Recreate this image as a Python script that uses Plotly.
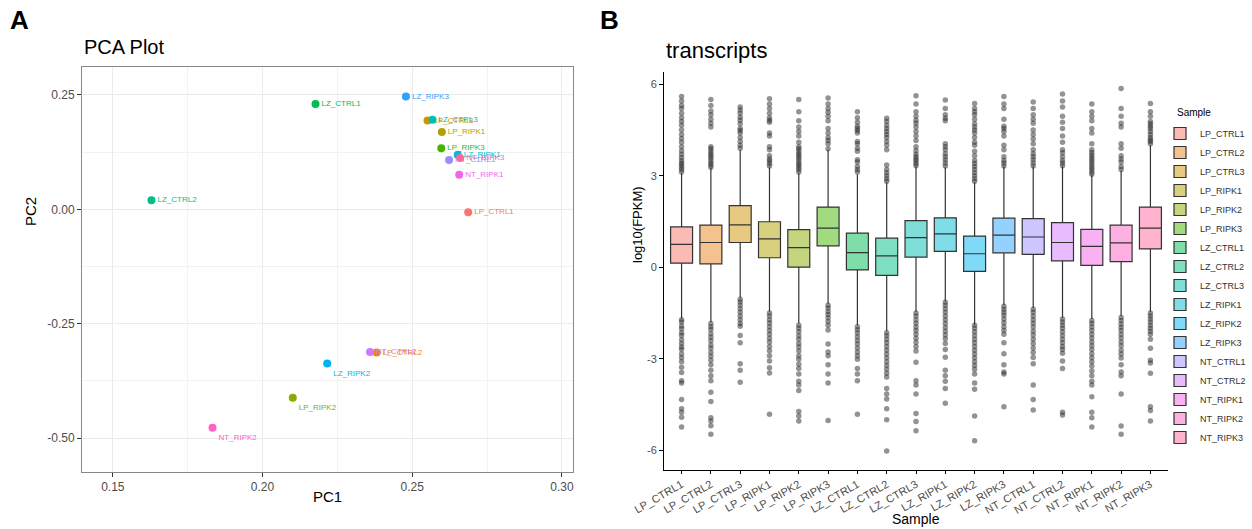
import math
import plotly.graph_objects as go

# ---------------- data ----------------
samples = ["LP_CTRL1", "LP_CTRL2", "LP_CTRL3", "LP_RIPK1", "LP_RIPK2", "LP_RIPK3",
           "LZ_CTRL1", "LZ_CTRL2", "LZ_CTRL3", "LZ_RIPK1", "LZ_RIPK2", "LZ_RIPK3",
           "NT_CTRL1", "NT_CTRL2", "NT_RIPK1", "NT_RIPK2", "NT_RIPK3"]

# PCA coordinates
pc1 = [0.2687, 0.2381, 0.2551, 0.2599, 0.2101, 0.2597, 0.2177, 0.1629, 0.2568,
       0.2652, 0.2216, 0.2479, 0.2623, 0.2359, 0.2657, 0.1833, 0.2660]
pc2 = [-0.0065, -0.313, 0.1941, 0.169, -0.4116, 0.1333, 0.230, 0.020, 0.1957,
       0.119, -0.337, 0.2464, 0.108, -0.3116, 0.0754, -0.4775, 0.1123]

pca_xticks = [0.15, 0.20, 0.25, 0.30]
pca_xticklabels = ["0.15", "0.20", "0.25", "0.30"]
pca_yticks = [0.25, 0.0, -0.25, -0.50]
pca_yticklabels = ["0.25", "0.00", "-0.25", "-0.50"]

# box statistics, log10(FPKM)
box_q1 = [0.13, 0.11, 0.81, 0.31, 0.00, 0.70, -0.09, -0.27, 0.33, 0.52, -0.14, 0.47, 0.42, 0.21, 0.06, 0.18, 0.60]
box_median = [0.75, 0.81, 1.39, 0.93, 0.64, 1.28, 0.48, 0.37, 0.97, 1.09, 0.44, 1.05, 0.99, 0.81, 0.68, 0.80, 1.28]
box_q3 = [1.32, 1.38, 2.02, 1.49, 1.23, 1.97, 1.12, 0.95, 1.53, 1.62, 1.02, 1.61, 1.59, 1.46, 1.24, 1.38, 1.97]
box_upper = [3.08, 3.25, 3.84, 3.28, 3.08, 3.85, 3.05, 2.78, 3.30, 3.28, 2.78, 3.30, 3.30, 3.30, 3.02, 3.16, 4.00]
box_lower = [-1.68, -1.80, -1.00, -1.45, -1.85, -1.20, -1.90, -2.10, -1.46, -1.12, -1.88, -1.24, -1.34, -1.66, -1.70, -1.60, -1.46]

upper_outliers = [
    [3.12, 3.2, 3.28, 3.35, 3.42, 3.5, 3.6, 3.7, 3.82, 3.95, 4.1, 4.22, 4.35, 4.5, 4.65, 4.78, 4.9, 5.05, 5.2, 5.3, 5.45, 5.6],
    [3.28, 3.35, 3.42, 3.5, 3.58, 3.65, 3.72, 3.8, 3.88, 3.95, 4.6, 4.72, 4.85, 5.0, 5.12, 5.3, 5.5],
    [3.9, 4.0, 4.12, 4.25, 4.4, 4.48, 4.55, 4.7, 4.82, 4.92, 5.05, 5.15, 5.25],
    [3.32, 3.4, 3.48, 3.55, 3.65, 3.85, 3.95, 4.3, 4.4, 4.75, 4.82, 4.9, 5.05, 5.2, 5.35, 5.52],
    [3.12, 3.2, 3.28, 3.35, 3.42, 3.5, 3.58, 3.65, 3.72, 3.8, 3.88, 3.95, 4.1, 4.3, 4.45, 4.6, 4.8, 5.1, 5.5],
    [3.88, 4.05, 4.15, 4.25, 4.4, 4.55, 4.8, 4.95, 5.08, 5.2, 5.35, 5.55],
    [3.12, 3.2, 3.3, 3.45, 3.52, 3.8, 3.9, 4.05, 4.12, 4.4, 4.48, 4.55, 4.62, 4.75, 4.9, 5.1],
    [2.82, 2.9, 3.0, 3.1, 3.2, 3.35, 3.85, 4.0, 4.12, 4.25, 4.35, 4.45, 4.55, 4.65, 4.78, 4.88],
    [3.33, 3.4, 3.48, 3.55, 3.62, 3.7, 3.82, 3.95, 4.15, 4.3, 4.45, 4.6, 4.72, 4.82, 4.95, 5.1, 5.35, 5.62],
    [3.32, 3.42, 3.52, 3.62, 3.72, 3.85, 3.95, 4.05, 4.8, 4.88, 5.0, 5.2, 5.48],
    [2.82, 2.9, 3.0, 3.1, 3.2, 3.3, 3.4, 3.5, 3.65, 3.8, 4.0, 4.1, 4.25, 4.4, 4.5, 4.6, 4.7, 4.85, 5.0, 5.1, 5.2, 5.37],
    [3.32, 3.42, 3.5, 3.62, 3.85, 4.0, 4.3, 4.45, 4.55, 4.62, 4.85, 5.2, 5.35, 5.6],
    [3.32, 3.42, 3.52, 3.62, 3.72, 3.85, 4.05, 4.2, 4.35, 4.5, 4.72, 4.85, 5.0, 5.2, 5.42],
    [3.33, 3.42, 3.5, 3.62, 3.75, 3.85, 4.1, 4.3, 4.55, 4.75, 4.95, 5.25, 5.45, 5.68],
    [3.05, 3.12, 3.2, 3.28, 3.36, 3.44, 3.52, 3.6, 3.68, 3.76, 3.85, 4.05, 4.4, 4.55, 4.8, 4.95, 5.1, 5.35],
    [3.2, 3.3, 3.45, 3.55, 3.65, 3.9, 4.05, 4.6, 4.72, 4.95, 5.2, 5.86],
    [4.05, 4.12, 4.18, 4.25, 4.35, 4.45, 4.55, 4.62, 4.7, 4.78, 4.95, 5.1, 5.37],
]

lower_outliers = [
    [-1.72, -1.8, -1.93, -2.02, -2.15, -2.24, -2.38, -2.5, -2.62, -2.7, -2.85, -2.97, -3.1, -3.28, -3.45, -3.72, -3.8, -4.34, -4.64, -4.76, -4.92, -5.24],
    [-1.85, -1.95, -2.04, -2.18, -2.3, -2.41, -2.55, -2.66, -2.8, -2.92, -3.05, -3.2, -3.38, -3.56, -3.72, -4.1, -4.4, -4.94, -5.04, -5.2, -5.48],
    [-1.05, -1.14, -1.25, -1.36, -1.48, -1.6, -1.72, -1.85, -1.94, -2.24, -2.48, -3.17, -3.38, -3.77],
    [-1.5, -1.6, -1.72, -1.83, -1.95, -2.08, -2.2, -2.33, -2.45, -2.6, -2.74, -2.9, -3.08, -3.3, -3.47, -4.82],
    [-1.9, -2.0, -2.12, -2.25, -2.36, -2.5, -2.62, -2.75, -2.9, -3.02, -3.18, -3.32, -3.5, -3.74, -3.86, -4.04, -4.73, -4.88, -5.04],
    [-1.25, -1.34, -1.45, -1.55, -1.66, -1.78, -1.9, -2.06, -2.52, -2.78, -2.9, -3.2, -3.5, -3.8, -5.03],
    [-1.95, -2.05, -2.16, -2.28, -2.4, -2.52, -2.65, -2.78, -2.9, -3.02, -3.32, -3.5, -3.72, -4.82],
    [-2.15, -2.25, -2.36, -2.48, -2.6, -2.72, -2.85, -2.97, -3.1, -3.22, -3.35, -3.48, -3.6, -3.98, -4.16, -4.32, -4.64, -5.0, -6.03],
    [-1.5, -1.6, -1.72, -1.84, -1.96, -2.08, -2.2, -2.33, -2.46, -2.6, -2.75, -3.12, -3.72, -3.86, -4.16, -4.8, -5.06, -5.36],
    [-1.15, -1.25, -1.36, -1.48, -1.6, -1.72, -1.85, -1.98, -2.1, -2.22, -2.35, -2.5, -2.7, -2.95, -3.38, -3.56, -3.74, -3.98, -4.46],
    [-1.9, -2.0, -2.12, -2.24, -2.36, -2.48, -2.6, -2.72, -2.85, -2.97, -3.1, -3.22, -3.35, -3.5, -3.8, -4.0, -4.88, -5.69],
    [-1.28, -1.38, -1.48, -1.58, -1.7, -1.82, -1.95, -2.08, -2.2, -2.48, -2.84, -3.2, -3.44, -3.5, -4.58],
    [-1.38, -1.48, -1.6, -1.72, -1.84, -1.96, -2.1, -2.22, -2.36, -2.5, -2.65, -2.8, -2.96, -3.17, -3.86, -4.34, -4.68],
    [-1.7, -1.8, -1.9, -2.0, -2.12, -2.24, -2.36, -2.48, -2.6, -2.7, -2.82, -3.08, -3.32, -4.76, -4.85],
    [-1.75, -1.85, -1.96, -2.08, -2.2, -2.32, -2.45, -2.58, -2.7, -2.84, -2.97, -3.1, -3.24, -3.4, -3.56, -3.74, -3.86, -4.25, -4.76, -4.94, -5.24],
    [-1.65, -1.75, -1.86, -1.97, -2.08, -2.2, -2.32, -2.45, -2.58, -2.72, -2.85, -2.98, -3.2, -3.44, -3.56, -4.16, -5.21, -5.48],
    [-1.5, -1.6, -1.7, -1.8, -1.9, -2.0, -2.1, -2.2, -2.36, -2.66, -3.05, -3.14, -3.48, -4.58, -4.7, -5.04],
]

box_yticks = [6, 3, 0, -3, -6]
box_yticklabels = ["6", "3", "0", "-3", "-6"]

# PCA label placement (style)
label_pos = ["middle right"] * len(samples)
for nm in ("LP_RIPK2", "LZ_RIPK2", "NT_RIPK2"):
    label_pos[samples.index(nm)] = "bottom right"


# ---------------- colours (ggplot2 default hue palette) ----------------
def hcl_to_rgb(h, c=100.0, l=65.0):
    hr = math.radians(h)
    u, v = c * math.cos(hr), c * math.sin(hr)
    Xn, Yn, Zn = 95.047, 100.0, 108.883
    Y = Yn * ((l + 16) / 116) ** 3
    den = Xn + 15 * Yn + 3 * Zn
    un, vn = 4 * Xn / den, 9 * Yn / den
    up, vp = u / (13 * l) + un, v / (13 * l) + vn
    X = Y * 9 * up / (4 * vp)
    Z = Y * (12 - 3 * up - 20 * vp) / (4 * vp)
    X, Y, Z = X / 100, Y / 100, Z / 100
    r = 3.2404542 * X - 1.5371385 * Y - 0.4985314 * Z
    g = -0.9692660 * X + 1.8760108 * Y + 0.0415560 * Z
    b = 0.0556434 * X - 0.2040259 * Y + 1.0572252 * Z

    def gam(x):
        x = 12.92 * x if x <= 0.0031308 else 1.055 * max(x, 0) ** (1 / 2.4) - 0.055
        return int(max(0, min(255, round(x * 255))))
    return gam(r), gam(g), gam(b)


n = len(samples)
rgbs = [hcl_to_rgb(15 + 360 * i / n) for i in range(n)]
solid = ["rgb(%d,%d,%d)" % c for c in rgbs]
light = ["rgba(%d,%d,%d,0.5)" % c for c in rgbs]

FONT = "Liberation Sans, Arial, sans-serif"
W, H = 1252, 529

fig = go.Figure()

# ---------------- Panel A: PCA ----------------
for i, s in enumerate(samples):
    fig.add_trace(go.Scatter(
        x=[pc1[i]], y=[pc2[i]], mode="markers+text", text=[s],
        textposition=label_pos[i],
        textfont=dict(size=8, color=solid[i], family=FONT),
        marker=dict(size=8, color=solid[i]),
        showlegend=False, xaxis="x", yaxis="y", hoverinfo="skip"))

# ---------------- Panel B: boxplots ----------------
for i, s in enumerate(samples):
    fig.add_trace(go.Box(
        x=[s], q1=[box_q1[i]], median=[box_median[i]], q3=[box_q3[i]],
        lowerfence=[box_lower[i]], upperfence=[box_upper[i]],
        name=s, fillcolor=light[i], line=dict(color="#333333", width=1.2),
        whiskerwidth=0, width=0.75, boxpoints=False,
        xaxis="x2", yaxis="y2", showlegend=True))

ox, oy = [], []
for i, s in enumerate(samples):
    for v in upper_outliers[i] + lower_outliers[i]:
        ox.append(s)
        oy.append(v)
fig.add_trace(go.Scatter(
    x=ox, y=oy, mode="markers",
    marker=dict(size=5.5, color="rgba(40,40,40,0.5)", line=dict(width=0)),
    showlegend=False, xaxis="x2", yaxis="y2", hoverinfo="skip"))

# ---------------- layout ----------------
tickfont = dict(family=FONT, size=12, color="#4D4D4D")
fig.update_layout(
    width=W, height=H,
    margin=dict(l=0, r=0, t=0, b=0, autoexpand=False),
    paper_bgcolor="white", plot_bgcolor="white",
    font=dict(family=FONT, color="black"),
    xaxis=dict(domain=[82 / W, 573 / W], range=[0.1397, 0.3037],
               tickmode="array", tickvals=pca_xticks, ticktext=pca_xticklabels,
               tickfont=tickfont, ticks="outside", ticklen=4, tickcolor="#333333",
               showgrid=True, gridcolor="#EBEBEB", gridwidth=1,
               minor=dict(tickvals=[0.175, 0.225, 0.275], showgrid=True,
                          gridcolor="#F2F2F2", gridwidth=0.6, ticks=""),
               showline=True, mirror=True, linecolor="#888888", linewidth=1,
               zeroline=False, anchor="y", automargin=False),
    yaxis=dict(domain=[1 - 472 / H, 1 - 67 / H], range=[-0.574, 0.311],
               tickmode="array", tickvals=pca_yticks, ticktext=pca_yticklabels,
               tickfont=tickfont, ticks="outside", ticklen=4, tickcolor="#333333",
               showgrid=True, gridcolor="#EBEBEB", gridwidth=1,
               minor=dict(tickvals=[0.125, -0.125, -0.375], showgrid=True,
                          gridcolor="#F2F2F2", gridwidth=0.6, ticks=""),
               showline=True, mirror=True, linecolor="#888888", linewidth=1,
               zeroline=False, anchor="x", automargin=False),
    xaxis2=dict(domain=[664 / W, 1168 / W], type="category",
                categoryorder="array", categoryarray=samples,
                range=[-0.6, 16.6], tickangle=-30,
                tickfont=dict(family=FONT, size=11, color="#4D4D4D"),
                ticks="outside", ticklen=3, tickcolor="black",
                showline=True, linecolor="black", linewidth=1,
                showgrid=False, zeroline=False, anchor="y2", automargin=False),
    yaxis2=dict(domain=[1 - 470 / H, 1 - 72 / H], range=[-6.65, 6.4],
                tickmode="array", tickvals=box_yticks, ticktext=box_yticklabels,
                tickfont=dict(family=FONT, size=11, color="#4D4D4D"),
                ticks="outside", ticklen=4, tickcolor="black",
                showline=True, linecolor="black", linewidth=1,
                showgrid=False, zeroline=False, anchor="x2", automargin=False),
    legend=dict(x=1160 / W, y=1 - 119 / H, xanchor="left", yanchor="top",
                font=dict(family=FONT, size=9, color="#333333"),
                bgcolor="rgba(0,0,0,0)", tracegroupgap=0, itemwidth=30),
    boxmode="overlay",
)

annots = [
    dict(text="<b>A</b>", x=8 / W, y=1 - 20 / H, xanchor="left", yanchor="middle",
         font=dict(family=FONT, size=26, color="black")),
    dict(text="<b>B</b>", x=598 / W, y=1 - 20 / H, xanchor="left", yanchor="middle",
         font=dict(family=FONT, size=26, color="black")),
    dict(text="PCA Plot", x=82 / W, y=1 - 47 / H, xanchor="left", yanchor="middle",
         font=dict(family=FONT, size=20, color="black")),
    dict(text="transcripts", x=664 / W, y=1 - 50 / H, xanchor="left", yanchor="middle",
         font=dict(family=FONT, size=22, color="black")),
    dict(text="PC1", x=327 / W, y=1 - 496 / H, xanchor="center", yanchor="middle",
         font=dict(family=FONT, size=15, color="black")),
    dict(text="PC2", x=30 / W, y=1 - 212 / H, xanchor="center", yanchor="middle",
         textangle=-90, font=dict(family=FONT, size=15, color="black")),
    dict(text="log10(FPKM)", x=637 / W, y=1 - 225 / H, xanchor="center", yanchor="middle",
         textangle=-90, font=dict(family=FONT, size=13, color="black")),
    dict(text="Sample", x=916 / W, y=1 - 519 / H, xanchor="center", yanchor="middle",
         font=dict(family=FONT, size=14, color="black")),
    dict(text="Sample", x=1175 / W, y=1 - 112 / H, xanchor="left", yanchor="middle",
         font=dict(family=FONT, size=10, color="black")),
]
for a in annots:
    a.update(xref="paper", yref="paper", showarrow=False)
fig.update_layout(annotations=annots)

fig.write_html("out.html")
